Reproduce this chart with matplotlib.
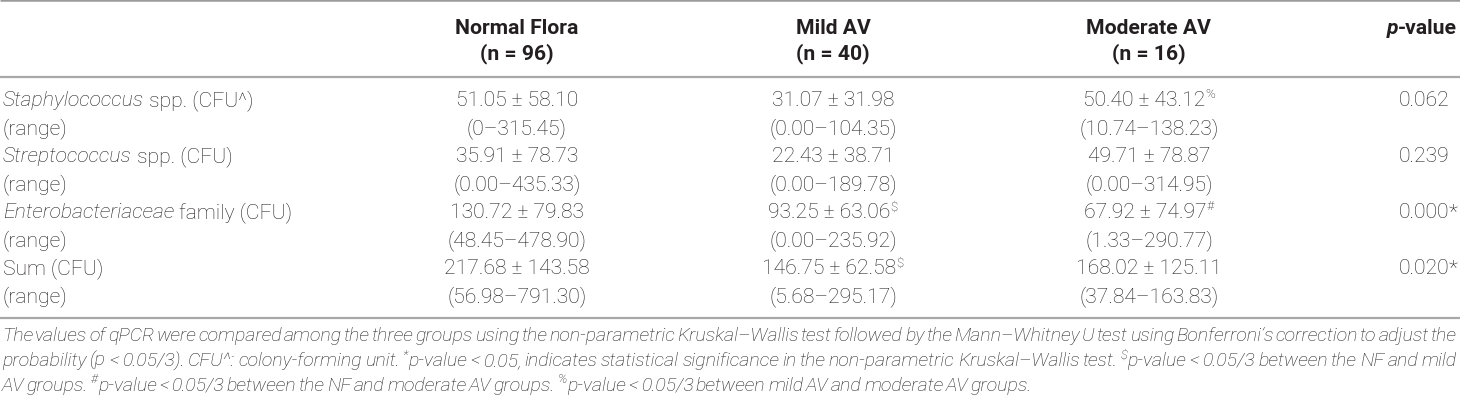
import matplotlib
matplotlib.use("Agg")
import matplotlib.pyplot as plt

# ---------------- data ----------------
row_labels = [
    [("Staphylococcus", "i"), (" spp. (CFU^)", "n")],
    [("(range)", "n")],
    [("Streptococcus", "i"), (" spp. (CFU)", "n")],
    [("(range)", "n")],
    [("Enterobacteriaceae", "i"), (" family (CFU)", "n")],
    [("(range)", "n")],
    [("Sum (CFU)", "n")],
    [("(range)", "n")],
]
group_names = ["Normal Flora", "Mild AV", "Moderate AV"]
group_n = [96, 40, 16]

nf_mean = [51.05, 35.91, 130.72, 217.68]
nf_sd = [58.10, 78.73, 79.83, 143.58]
nf_range = ["0–315.45", "0.00–435.33", "48.45–478.90", "56.98–791.30"]

mild_mean = [31.07, 22.43, 93.25, 146.75]
mild_sd = [31.98, 38.71, 63.06, 62.58]
mild_range = ["0.00–104.35", "0.00–189.78", "0.00–235.92", "5.68–295.17"]
mild_mark = ["", "", "$", "$"]

mod_mean = [50.40, 49.71, 67.92, 168.02]
mod_sd = [43.12, 78.87, 74.97, 125.11]
mod_range = ["10.74–138.23", "0.00–314.95", "1.33–290.77", "37.84–163.83"]
mod_mark = ["%", "", "#", ""]

p_values = [0.062, 0.239, 0.000, 0.020]
p_signif = ["", "", "*", "*"]

footnote_lines = [
    "The values of qPCR were compared among the three groups using the non-parametric Kruskal–Wallis test followed by the Mann–Whitney U test using Bonferroni’s correction to adjust the",
    "probability (p < 0.05/3). CFU^: colony-forming unit. ^*p-value < 0.05, indicates statistical significance in the non-parametric Kruskal–Wallis test. ^$p-value < 0.05/3 between the NF and mild",
    "AV groups. ^#p-value < 0.05/3 between the NF and moderate AV groups. ^%p-value < 0.05/3 between mild AV and moderate AV groups.",
]

# ---------------- layout ----------------
W, H = 1460, 402
TC = "#231f20"
LC = "#a8a8a8"
FS = 15.2
FAM = ["Roboto", "DejaVu Sans"]

fig = plt.figure(figsize=(W / 100, H / 100), dpi=100)
ax = fig.add_axes([0, 0, 1, 1])
ax.set_xlim(0, W)
ax.set_ylim(H, 0)
ax.axis("off")
fig.canvas.draw()
R = fig.canvas.get_renderer()

STY = {
    "n": dict(family=FAM, weight="light", style="normal", size=FS, color=TC),
    "i": dict(family=FAM, weight="light", style="italic", size=FS, color=TC),
    "b": dict(family=FAM, weight="bold", style="normal", size=FS, color=TC),
    "bi": dict(family=FAM, weight="bold", style="italic", size=FS, color=TC),
    "sup": dict(family=FAM, weight="light", style="normal", size=FS * 0.62, color=TC),
    "supi": dict(family=FAM, weight="light", style="italic", size=FS * 0.62, color=TC),
}
RISE = {"sup": 8.0, "supi": 8.0, "fsupi": 7.5}


def tw(txt, sty):
    if not txt:
        return 0.0
    t = ax.text(0, 0, txt, **STY[sty])
    w = t.get_window_extent(R).width
    t.remove()
    return w


_spc = {}


def space_w(sty):
    if sty not in _spc:
        _spc[sty] = tw("a a", sty) - tw("aa", sty)
    return _spc[sty]


def seg_w(segs):
    tot = 0.0
    for txt, sty in segs:
        core = txt.strip(" ")
        lead = len(txt) - len(txt.lstrip(" "))
        trail = len(txt) - len(txt.rstrip(" "))
        tot += (lead + trail) * space_w(sty) + tw(core, sty)
    return tot


def draw_segs(x, yb, segs, ha="left"):
    total = seg_w(segs)
    if ha == "center":
        x = x - total / 2
    elif ha == "right":
        x = x - total
    for txt, sty in segs:
        core = txt.strip(" ")
        lead = len(txt) - len(txt.lstrip(" "))
        trail = len(txt) - len(txt.rstrip(" "))
        x += lead * space_w(sty)
        if core:
            ax.text(x, yb - RISE.get(sty, 0), core, ha="left", va="baseline", **STY[sty])
            x += tw(core, sty)
        x += trail * space_w(sty)
    return x


def hline(y, lw=1.6, color=LC):
    ax.plot([0, W], [y, y], color=color, lw=lw, solid_capstyle="butt")


# rules
hline(1.2, lw=1.8, color="#9a9a9a")
hline(77.5)
hline(318.5)

# header
BO = 7.5  # baseline offset from visual centre
col_x = [517, 833, 1149]
for cx, name, n in zip(col_x, group_names, group_n):
    draw_segs(cx, 27 + BO, [(name, "b")], ha="center")
    draw_segs(cx, 52 + BO, [(f"(n = {n})", "b")], ha="center")
draw_segs(1457, 27 + BO, [("p", "bi"), ("-value", "b")], ha="right")

# body
row_y = [99 + 28 * i for i in range(8)]
for i, segs in enumerate(row_labels):
    draw_segs(3, row_y[i] + BO, segs)

cols = [
    (nf_mean, nf_sd, nf_range, ["", "", "", ""]),
    (mild_mean, mild_sd, mild_range, mild_mark),
    (mod_mean, mod_sd, mod_range, mod_mark),
]
for cx, (mean, sd, rng, mark) in zip(col_x, cols):
    for k in range(4):
        segs = [(f"{mean[k]:.2f} ± {sd[k]:.2f}", "n")]
        if mark[k]:
            segs.append((mark[k], "sup"))
        draw_segs(cx, row_y[2 * k] + BO, segs, ha="center")
        draw_segs(cx, row_y[2 * k + 1] + BO, [(f"({rng[k]})", "n")], ha="center")

for k in range(4):
    xe = draw_segs(1449, row_y[2 * k] + BO, [(f"{p_values[k]:.3f}", "n")], ha="right")
    if p_signif[k]:
        draw_segs(xe, row_y[2 * k] + BO, [(p_signif[k], "n")])

# footnote (italic, justified, size fitted to the line width)
foot_base = [341, 366, 391]
x0, x1 = 2, 1457
GAPF = 0.42


def word_segs(word, it="i", sup="supi"):
    if word.startswith("^"):
        return [(word[1], sup), (word[2:], it)]
    return [(word, it)]


fit = 1.0
for line in footnote_lines[:-1]:
    words = [word_segs(w) for w in line.split(" ")]
    tot = sum(seg_w(s) for s in words) + GAPF * space_w("i") * (len(words) - 1)
    fit = min(fit, (x1 - x0) / tot)
FFS = FS * fit
STY["fi"] = dict(family=FAM, weight="light", style="italic", size=FFS, color=TC)
STY["fsupi"] = dict(family=FAM, weight="light", style="italic", size=FFS * 0.66, color=TC)

for li, line in enumerate(footnote_lines):
    words = [word_segs(w, "fi", "fsupi") for w in line.split(" ")]
    ws = [seg_w(s) for s in words]
    if li < len(footnote_lines) - 1:
        gap = (x1 - x0 - sum(ws)) / (len(words) - 1)
    else:
        gap = 0.55 * space_w("fi")
    x = x0
    for s, w in zip(words, ws):
        draw_segs(x, foot_base[li], s)
        x += w + gap

fig.savefig("out.png", dpi=100, facecolor="white")
